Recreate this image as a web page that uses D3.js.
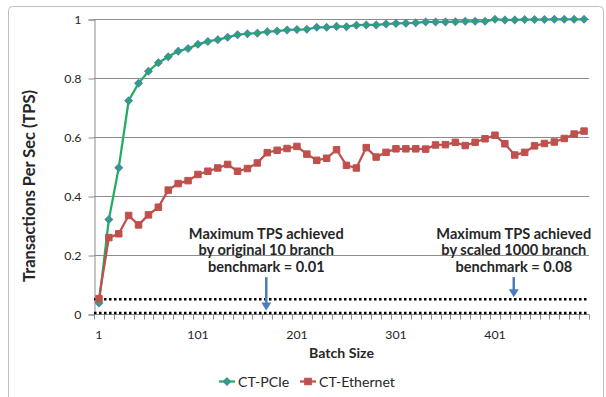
<!DOCTYPE html>
<html>
<head>
<meta charset="utf-8">
<script src="https://cdn.jsdelivr.net/npm/d3@7/dist/d3.min.js"></script>
<style>
  html, body { margin: 0; padding: 0; background: #fff; }
  svg { display: block; }
  text { font-family: Lato, "Liberation Sans", sans-serif; fill: #262626; }
</style>
</head>
<body>
<svg id="chart" width="606" height="397"></svg>
<script>
// ---------------- data ----------------
const batchSizes = [1, 11, 21, 31, 41, 51, 61, 71, 81, 91,
  101, 111, 121, 131, 141, 151, 161, 171, 181, 191,
  201, 211, 221, 231, 241, 251, 261, 271, 281, 291,
  301, 311, 321, 331, 341, 351, 361, 371, 381, 391,
  401, 411, 421, 431, 441, 451, 461, 471, 481, 491];

const pcie = [0.037, 0.32, 0.496, 0.723, 0.782, 0.823, 0.852, 0.872, 0.891, 0.900,
  0.914, 0.924, 0.930, 0.938, 0.947, 0.950, 0.952, 0.957, 0.959, 0.963,
  0.964, 0.965, 0.972, 0.972, 0.975, 0.974, 0.979, 0.980, 0.980, 0.983,
  0.985, 0.986, 0.987, 0.990, 0.990, 0.990, 0.991, 0.992, 0.992, 0.992,
  0.999, 0.997, 0.997, 0.998, 0.998, 0.998, 0.999, 0.999, 0.999, 0.999];

const ethernet = [0.052, 0.259, 0.272, 0.334, 0.302, 0.336, 0.362, 0.420, 0.442, 0.452,
  0.473, 0.484, 0.495, 0.507, 0.484, 0.493, 0.512, 0.547, 0.555, 0.561,
  0.568, 0.542, 0.521, 0.528, 0.557, 0.504, 0.495, 0.564, 0.532, 0.548,
  0.560, 0.560, 0.560, 0.559, 0.573, 0.574, 0.582, 0.571, 0.582, 0.594,
  0.606, 0.577, 0.539, 0.548, 0.570, 0.578, 0.583, 0.595, 0.610, 0.620];

const xTickLabels = [1, 101, 201, 301, 401];
const yTickValues = [0, 0.2, 0.4, 0.6, 0.8, 1];
const yTickLabels = ["0", "0.2", "0.4", "0.6", "0.8", "1"];

const seriesNames = ["CT-PCIe", "CT-Ethernet"];

// benchmark reference levels (dotted lines)
const benchmarkLevels = [0.05, 0.003];

// annotations: text lines, arrow at batch position, arrow from/to value
const annotationText = [
  ["Maximum TPS achieved", "by original 10 branch", "benchmark = 0.01"],
  ["Maximum TPS achieved", "by scaled 1000 branch", "benchmark = 0.08"]
];
const annotationArrowBatch = [170, 420];
const annotationArrowFrom = [0.125, 0.125];
const annotationArrowTo = [0.012, 0.057];

// ---------------- helpers ----------------
// pick a font size so that a sample string renders at a target width
function fitSize(sample, targetWidth, weight) {
  const t = svg.append("text")
    .attr("font-size", 20)
    .attr("font-weight", weight || "normal")
    .text(sample);
  const w = t.node().getComputedTextLength();
  t.remove();
  return 20 * targetWidth / w;
}

// ---------------- layout ----------------
const svg = d3.select("#chart");
const L = 94, R = 589, T = 19, B = 314;

const tickFont = fitSize("101", 21.5, "normal");
const annFont = fitSize("Maximum TPS achieved", 155, "bold");
const yTitleFont = fitSize("Transactions Per Sec (TPS)", 192, "bold");
const xTitleFont = fitSize("Batch Size", 65, "bold");
const legendFont = fitSize("CT-Ethernet", 76, "normal");

// outer border
svg.append("rect")
  .attr("x", 8.5).attr("y", 6.5)
  .attr("width", 595).attr("height", 400)
  .attr("rx", 4)
  .attr("fill", "#fff")
  .attr("stroke", "#bfbfbf")
  .attr("stroke-width", 1);

const x = d3.scaleBand().domain(batchSizes).range([L, R]).padding(0);
const xc = d => x(d) + x.bandwidth() / 2;
const xLin = d3.scaleLinear()
  .domain([batchSizes[0], batchSizes[batchSizes.length - 1]])
  .range([xc(batchSizes[0]), xc(batchSizes[batchSizes.length - 1])]);
const y = d3.scaleLinear().domain([0, 1]).range([B, T]);

// gridlines
svg.append("g")
  .selectAll("line")
  .data(yTickValues.filter(v => v > 0))
  .join("line")
  .attr("x1", L).attr("x2", R)
  .attr("y1", d => Math.round(y(d)) + 0.5)
  .attr("y2", d => Math.round(y(d)) + 0.5)
  .attr("stroke", "#8c8c8c")
  .attr("stroke-width", 1);

// y axis
const yAxis = svg.append("g")
  .attr("transform", `translate(${L + 0.5},0.5)`)
  .call(d3.axisLeft(y)
    .tickValues(yTickValues)
    .tickFormat((d, i) => yTickLabels[i])
    .tickSizeOuter(0)
    .tickSize(6)
    .tickPadding(7));
yAxis.select(".domain").attr("stroke", "#8c8c8c");
yAxis.selectAll(".tick line").attr("stroke", "#8c8c8c");
yAxis.selectAll(".tick text")
  .attr("font-size", tickFont)
  .attr("font-family", "Lato, sans-serif")
  .attr("fill", "#262626");

// x axis
const xAxisG = svg.append("g").attr("transform", `translate(0,${B + 0.5})`);
xAxisG.append("line")
  .attr("x1", L).attr("x2", R)
  .attr("stroke", "#8c8c8c");
const boundaries = batchSizes.map(d => x(d)).concat([x(batchSizes[batchSizes.length - 1]) + x.bandwidth()]);
xAxisG.selectAll("line.tk")
  .data(boundaries)
  .join("line")
  .attr("class", "tk")
  .attr("x1", d => Math.round(d) + 0.5)
  .attr("x2", d => Math.round(d) + 0.5)
  .attr("y1", 0).attr("y2", 5)
  .attr("stroke", "#8c8c8c");
const xAxisLabels = svg.append("g")
  .attr("transform", `translate(0,${B})`)
  .call(d3.axisBottom(x)
    .tickValues(xTickLabels)
    .tickSize(0)
    .tickPadding(16));
xAxisLabels.select(".domain").remove();
xAxisLabels.selectAll(".tick text")
  .attr("font-size", tickFont)
  .attr("font-family", "Lato, sans-serif")
  .attr("fill", "#262626");

// benchmark dotted lines
svg.append("g")
  .selectAll("line")
  .data(benchmarkLevels)
  .join("line")
  .attr("x1", L).attr("x2", R)
  .attr("y1", d => y(d)).attr("y2", d => y(d))
  .attr("stroke", "#000")
  .attr("stroke-width", 2.5)
  .attr("stroke-dasharray", "2.5,2.5");

// series
const green = "#1fae5b", blue = "#4f81bd", red = "#c0504d";
const lineGen = vals => d3.line()
  .x((d, i) => xc(batchSizes[i]))
  .y(d => y(d))(vals);

svg.append("path")
  .attr("d", lineGen(pcie))
  .attr("fill", "none")
  .attr("stroke", green)
  .attr("stroke-width", 2.25);

svg.append("path")
  .attr("d", lineGen(ethernet))
  .attr("fill", "none")
  .attr("stroke", red)
  .attr("stroke-width", 2.25);

const diamond = d3.symbol().type(d3.symbolDiamond2).size(34);
const square = d3.symbol().type(d3.symbolSquare).size(42);

svg.append("g")
  .selectAll("path")
  .data(pcie)
  .join("path")
  .attr("transform", (d, i) => `translate(${xc(batchSizes[i])},${y(d)})`)
  .attr("d", diamond)
  .attr("fill", green)
  .attr("stroke", blue)
  .attr("stroke-width", 1.2);

svg.append("g")
  .selectAll("path")
  .data(ethernet)
  .join("path")
  .attr("transform", (d, i) => `translate(${xc(batchSizes[i])},${y(d)})`)
  .attr("d", square)
  .attr("fill", red)
  .attr("stroke", red)
  .attr("stroke-width", 1);

// annotations
const arrowColor = "#4a7ebb";
annotationText.forEach((lines, k) => {
  const cx = xLin(annotationArrowBatch[k]);
  const g = svg.append("g");
  g.selectAll("text")
    .data(lines)
    .join("text")
    .attr("x", cx)
    .attr("y", (d, i) => 239 + i * 16.3)
    .attr("text-anchor", "middle")
    .attr("font-size", annFont)
    .attr("font-weight", "bold")
    .attr("fill", "#000")
    .text(d => d);
  const y0 = y(annotationArrowFrom[k]);
  const y1 = y(annotationArrowTo[k]);
  g.append("line")
    .attr("x1", cx).attr("x2", cx)
    .attr("y1", y0).attr("y2", y1 - 6)
    .attr("stroke", arrowColor)
    .attr("stroke-width", 2.5);
  g.append("path")
    .attr("d", `M${cx - 5},${y1 - 8} L${cx + 5},${y1 - 8} L${cx},${y1} Z`)
    .attr("fill", arrowColor);
});

// axis titles
svg.append("text")
  .attr("transform", `translate(35,186) rotate(-90)`)
  .attr("text-anchor", "middle")
  .attr("font-size", yTitleFont)
  .attr("font-weight", "bold")
  .attr("fill", "#000")
  .text("Transactions Per Sec (TPS)");

svg.append("text")
  .attr("x", 341.5)
  .attr("y", 358)
  .attr("text-anchor", "middle")
  .attr("font-size", xTitleFont)
  .attr("font-weight", "bold")
  .attr("fill", "#000")
  .text("Batch Size");

// legend
const legend = svg.append("g");
const legendItems = [
  { name: seriesNames[0], color: green, x0: 219, sym: diamond, fill: green, stroke: blue },
  { name: seriesNames[1], color: red, x0: 300, sym: square, fill: red, stroke: red }
];
const ly = 381.5;
legendItems.forEach(it => {
  legend.append("line")
    .attr("x1", it.x0).attr("x2", it.x0 + 16)
    .attr("y1", ly).attr("y2", ly)
    .attr("stroke", it.color).attr("stroke-width", 2.25);
  legend.append("path")
    .attr("transform", `translate(${it.x0 + 8},${ly})`)
    .attr("d", it.sym)
    .attr("fill", it.fill).attr("stroke", it.stroke).attr("stroke-width", 1.2);
  legend.append("text")
    .attr("x", it.x0 + 19)
    .attr("y", ly + 5)
    .attr("font-size", legendFont)
    .attr("fill", "#262626")
    .text(it.name);
});
</script>
</body>
</html>
